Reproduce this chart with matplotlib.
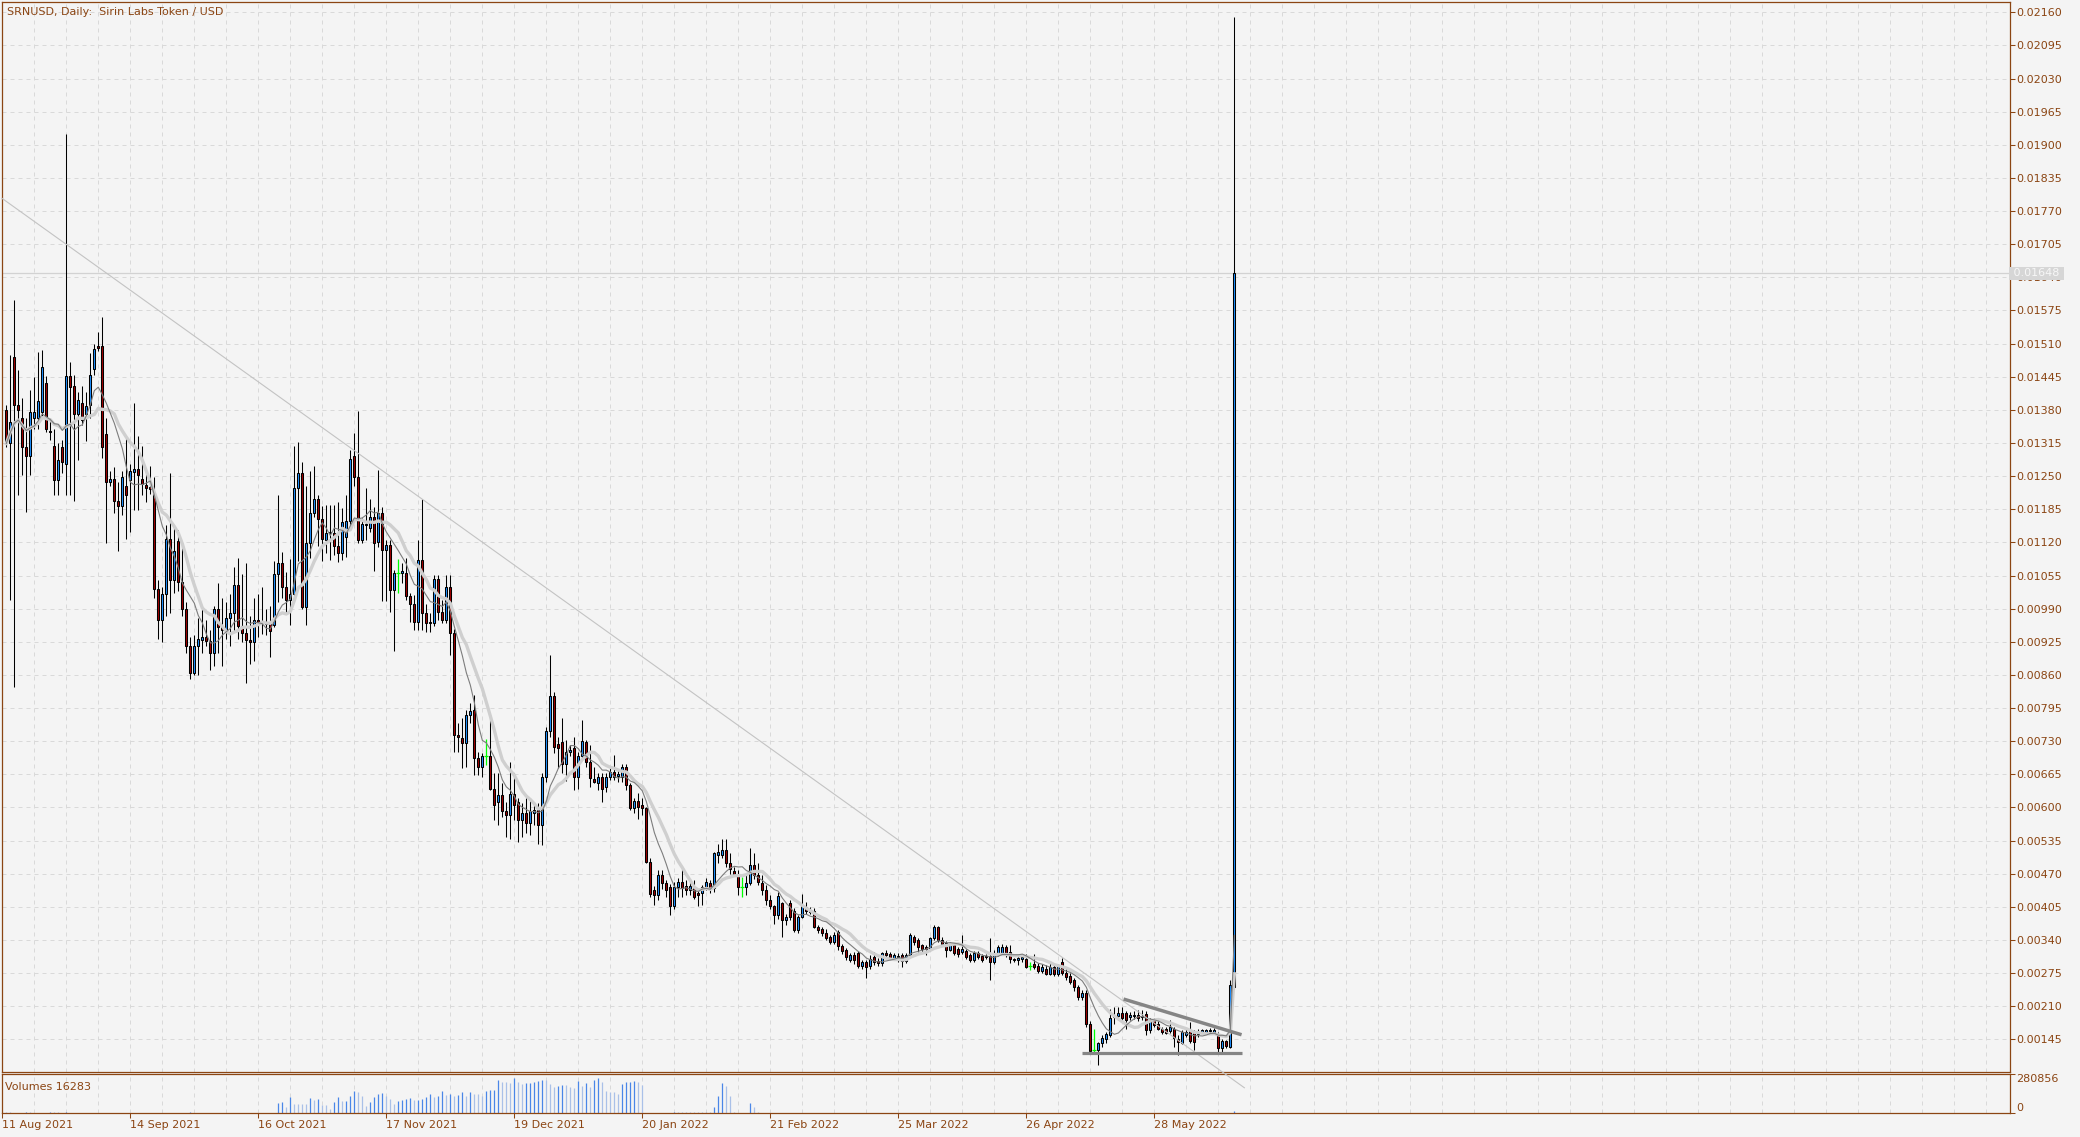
import numpy as np
import pandas as pd
import matplotlib
matplotlib.use('Agg')
import matplotlib.pyplot as plt
import matplotlib.transforms as mtransforms

# ---------------------------
# Data (prices in 1e-5 USD, volumes in thousands)
# ---------------------------
opens = [
    1379, 1314, 1484, 1390, 1364, 1307, 1289, 1364, 1364, 1375,
    1433, 1339, 1310, 1242, 1307, 1274, 1447, 1426, 1372, 1393,
    1372, 1390, 1460, 1505, 1505, 1332, 1238, 1245, 1202, 1191,
    1231, 1242, 1258, 1263, 1245, 1232, 1228, 1216, 1029, 967,
    1018, 1126, 1047, 1123, 1043, 989, 917, 863, 917, 928,
    935, 927, 902, 989, 953, 949, 971, 982, 1036, 956,
    942, 928, 924, 967, 962, 960, 962, 958, 1058, 1079,
    1032, 1007, 1018, 1227, 1256, 993, 1119, 1177, 1206, 1166,
    1125, 1139, 1139, 1112, 1099, 1131, 1161, 1290, 1249, 1125,
    1154, 1148, 1169, 1121, 1178, 1105, 1115, 1027, 1059, 1059,
    1059, 1014, 1000, 964, 1085, 981, 964, 961, 1049, 984,
    968, 1033, 942, 742, 736, 727, 781, 791, 696, 680,
    700, 700, 637, 611, 624, 592, 585, 626, 610, 575,
    590, 569, 590, 594, 565, 660, 749, 819, 725, 729,
    686, 709, 716, 660, 700, 729, 690, 655, 647, 660,
    641, 660, 670, 662, 660, 680, 644, 598, 613, 605,
    598, 493, 438, 428, 467, 451, 444, 406, 444, 454,
    445, 437, 444, 432, 432, 444, 452, 441, 507, 507,
    517, 491, 476, 470, 444, 444, 451, 487, 467, 452,
    438, 418, 406, 389, 413, 380, 413, 397, 359, 385,
    404, 399, 397, 366, 362, 353, 345, 336, 356, 328,
    320, 301, 310, 314, 289, 297, 289, 306, 299, 294,
    314, 312, 304, 309, 310, 299, 310, 346, 340, 330,
    327, 323, 343, 365, 340, 334, 321, 330, 323, 317,
    319, 310, 300, 315, 308, 308, 308, 297, 314, 315,
    327, 317, 302, 300, 302, 302, 289, 292, 288, 279,
    282, 274, 286, 274, 297, 275, 270, 261, 248, 228,
    236, 176, 124, 124, 137, 145, 153, 188, 190, 196,
    196, 189, 190, 193, 188, 194, 163, 183, 176, 166,
    166, 161, 166, 145, 138, 153, 161, 160, 155, 160,
    160, 162, 160, 155, 127, 142, 130, 248,
]
highs = [
    1390, 1487, 1595, 1458, 1404, 1364, 1418, 1444, 1494, 1498,
    1447, 1364, 1343, 1314, 1321, 1921, 1473, 1449, 1415, 1426,
    1415, 1491, 1509, 1533, 1563, 1364, 1260, 1267, 1238, 1260,
    1328, 1274, 1393, 1328, 1310, 1260, 1270, 1249, 1047, 1032,
    1155, 1256, 1151, 1144, 1112, 1003, 935, 938, 971, 996,
    967, 949, 996, 1040, 1011, 1003, 1018, 1072, 1090, 1058,
    1079, 975, 1011, 1018, 1032, 989, 996, 1083, 1213, 1101,
    1061, 1087, 1310, 1317, 1278, 1231, 1260, 1270, 1213, 1191,
    1193, 1193, 1193, 1200, 1187, 1213, 1301, 1334, 1378, 1167,
    1226, 1206, 1190, 1262, 1190, 1125, 1125, 1066, 1087, 1079,
    1089, 1020, 1017, 1125, 1206, 1000, 982, 1056, 1056, 1007,
    1056, 1056, 951, 765, 775, 791, 804, 821, 709, 706,
    735, 778, 667, 667, 647, 611, 690, 667, 618, 608,
    618, 618, 611, 608, 667, 758, 899, 827, 739, 775,
    732, 722, 739, 709, 771, 732, 722, 680, 667, 667,
    667, 680, 703, 675, 686, 686, 647, 618, 628, 618,
    601, 500, 445, 477, 477, 458, 450, 454, 461, 484,
    457, 457, 457, 438, 448, 461, 457, 513, 529, 539,
    539, 510, 483, 477, 464, 470, 521, 510, 490, 467,
    448, 428, 408, 434, 415, 390, 418, 402, 389, 430,
    415, 405, 402, 369, 366, 362, 350, 356, 359, 333,
    325, 314, 316, 318, 300, 300, 310, 317, 304, 317,
    320, 317, 314, 314, 315, 314, 353, 350, 343, 333,
    330, 346, 369, 368, 345, 337, 335, 333, 327, 349,
    323, 314, 318, 318, 312, 312, 343, 320, 330, 333,
    330, 330, 305, 308, 310, 313, 297, 313, 295, 292,
    290, 294, 295, 292, 304, 285, 275, 265, 251, 241,
    241, 180, 166, 140, 153, 160, 205, 209, 209, 209,
    200, 199, 200, 202, 202, 201, 186, 187, 180, 170,
    170, 183, 170, 153, 163, 166, 179, 163, 166, 166,
    166, 168, 167, 160, 145, 144, 261, 2150,
]
lows = [
    1307, 1007, 837, 1213, 1253, 1180, 1253, 1343, 1343, 1364,
    1336, 1320, 1213, 1213, 1256, 1213, 1213, 1202, 1281, 1350,
    1318, 1364, 1449, 1495, 1285, 1119, 1230, 1177, 1104, 1173,
    1126, 1141, 1184, 1184, 1213, 1200, 1215, 1011, 931, 924,
    975, 982, 1021, 1025, 975, 902, 852, 859, 859, 902,
    917, 870, 877, 902, 877, 931, 917, 946, 931, 924,
    845, 881, 888, 935, 940, 938, 895, 953, 1003, 1011,
    982, 957, 1007, 1083, 989, 957, 1090, 1170, 1112, 1083,
    1100, 1085, 1095, 1082, 1085, 1092, 1150, 1230, 1118, 1118,
    1125, 1140, 1063, 1110, 1004, 1004, 984, 906, 1021, 1040,
    1007, 964, 948, 948, 948, 945, 945, 955, 968, 961,
    961, 899, 709, 709, 677, 680, 765, 664, 664, 660,
    683, 634, 575, 565, 582, 542, 539, 575, 533, 542,
    549, 546, 565, 529, 526, 650, 739, 706, 677, 667,
    651, 700, 634, 637, 693, 680, 641, 647, 634, 611,
    630, 654, 654, 650, 650, 634, 595, 590, 578, 585,
    490, 425, 408, 418, 440, 425, 389, 400, 425, 425,
    428, 428, 421, 406, 408, 438, 433, 435, 490, 500,
    483, 470, 465, 428, 425, 428, 448, 460, 448, 428,
    408, 400, 372, 382, 345, 370, 380, 356, 354, 383,
    390, 390, 363, 354, 348, 340, 333, 333, 320, 312,
    300, 297, 293, 285, 283, 266, 283, 290, 289, 288,
    306, 300, 300, 296, 287, 294, 306, 330, 317, 314,
    310, 318, 340, 336, 328, 307, 318, 310, 306, 312,
    303, 297, 297, 302, 296, 302, 261, 292, 309, 310,
    307, 294, 296, 290, 297, 284, 281, 283, 275, 276,
    271, 272, 270, 270, 272, 262, 254, 240, 222, 222,
    170, 120, 120, 94, 130, 137, 150, 176, 183, 180,
    166, 183, 184, 180, 183, 153, 157, 170, 163, 155,
    155, 157, 130, 114, 135, 150, 138, 124, 150, 157,
    157, 158, 157, 120, 117, 127, 127, 243,
]
closes = [
    1314, 1357, 1390, 1379, 1307, 1289, 1375, 1375, 1397, 1465,
    1343, 1336, 1242, 1281, 1278, 1447, 1424, 1372, 1400, 1361,
    1388, 1449, 1500, 1502, 1307, 1238, 1245, 1202, 1191, 1249,
    1213, 1260, 1263, 1253, 1235, 1227, 1224, 1029, 967, 1018,
    1126, 1047, 1104, 1043, 989, 917, 863, 917, 931, 935,
    927, 902, 989, 953, 949, 971, 982, 1036, 956, 942,
    928, 924, 967, 964, 966, 964, 946, 1058, 1079, 1032,
    1007, 1018, 1227, 1256, 993, 1119, 1177, 1206, 1166, 1126,
    1139, 1141, 1112, 1099, 1159, 1161, 1283, 1249, 1125, 1157,
    1157, 1169, 1118, 1178, 1105, 1115, 1027, 1059, 1059, 1063,
    1014, 1000, 964, 1085, 981, 961, 961, 1049, 984, 968,
    1033, 942, 742, 738, 727, 781, 789, 696, 680, 700,
    700, 637, 605, 624, 592, 585, 626, 605, 575, 590,
    569, 592, 594, 565, 660, 749, 819, 719, 716, 686,
    709, 713, 660, 700, 731, 690, 657, 650, 660, 637,
    660, 670, 660, 665, 680, 644, 598, 613, 601, 598,
    493, 431, 428, 467, 451, 438, 406, 444, 454, 441,
    438, 445, 425, 428, 444, 454, 441, 510, 513, 516,
    491, 480, 470, 444, 444, 451, 487, 467, 454, 438,
    418, 406, 389, 426, 380, 385, 385, 359, 385, 406,
    397, 395, 366, 359, 353, 343, 336, 349, 328, 319,
    306, 310, 300, 289, 297, 286, 302, 297, 294, 314,
    311, 304, 310, 306, 299, 310, 350, 336, 327, 323,
    323, 343, 365, 340, 333, 321, 330, 314, 312, 323,
    307, 300, 315, 306, 300, 306, 297, 314, 327, 327,
    315, 302, 300, 305, 307, 286, 289, 286, 279, 286,
    274, 286, 274, 289, 275, 268, 258, 248, 228, 235,
    176, 122, 124, 137, 147, 155, 186, 192, 196, 186,
    183, 192, 193, 186, 191, 163, 184, 173, 166, 160,
    157, 169, 147, 140, 160, 160, 142, 140, 160, 163,
    163, 164, 164, 127, 142, 132, 251, 1648,
]
volumes_k = (
    [6, 6, 0, 0, 0, 6, 6, 0, 0, 0, 0, 6, 6, 6, 0, 6] + [0] * 30 + [6] + [0] * 21
    + [73, 78, 44, 114, 68, 68, 68, 68, 107, 97,
       104, 63, 63, 34, 80, 114, 85, 90, 124, 157,
       153, 128, 56, 80, 114, 138, 143, 124, 104, 68,
       92, 94, 102, 111, 94, 97, 102, 114, 140, 116,
       121, 162, 133, 140, 126, 131, 150, 128, 150, 140,
       136, 128, 162, 165, 170, 237, 225, 225, 218, 252,
       223, 213, 218, 220, 225, 230, 237, 237, 208, 189,
       194, 201, 201, 189, 184, 230, 194, 218, 189, 237,
       252, 225, 160, 152, 152, 140, 208, 222, 227, 230,
       222, 203]
    + [0] * 7 + [6] * 10 + [48, 121, 215, 194, 128, 6, 0, 0, 0, 73, 44, 6]
    + [0] * 118 + [16.283]
)

price_ticks = np.arange(145, 2161, 65)          # 0.00145 .. 0.02160
date_pos = [-1, 31, 63, 95, 127, 159, 191, 223, 255, 287]
date_labels = ['11 Aug 2021', '14 Sep 2021', '16 Oct 2021', '17 Nov 2021', '19 Dec 2021',
               '20 Jan 2022', '21 Feb 2022', '25 Mar 2022', '26 Apr 2022', '28 May 2022']
bid = 1648
vol_top = 280856
trend_x, trend_y = [-1.075, 309.5], [1795, 50]
support_x, support_y = [268.9, 308.8], [119, 119]
resist_x, resist_y = [279.3, 308.8], [224, 154]

# ---------------------------
# Style
# ---------------------------
BG = '#f4f4f4'
BROWN = '#8b4513'
GRID = '#d9d9d9'
W, H = 2080, 1137

o = np.array(opens) * 1e-5
h = np.array(highs) * 1e-5
l = np.array(lows) * 1e-5
c = np.array(closes) * 1e-5
vol = np.array(volumes_k) * 1000
idx = np.arange(len(c))

fig = plt.figure(figsize=(W / 100, H / 100), dpi=100, facecolor=BG)
ax = fig.add_axes([2.3 / W, 1 - 1072.3 / H, (2010 - 2.3) / W, (1072.3 - 2.3) / H], facecolor=BG)
axv = fig.add_axes([2.3 / W, 1 - 1113.3 / H, (2010 - 2.3) / W, (1113.3 - 1074.3) / H], facecolor=BG)
ax.set_zorder(3)
axv.set_zorder(1)

xmin, xmax = -1.0, 500.9
ax.set_xlim(xmin, xmax)
axv.set_xlim(xmin, xmax)
ax.set_ylim(0.000803, 0.021796)
axv.set_ylim(0, vol_top)

# grid
for a in (ax, axv):
    for gx in np.arange(7, 500, 8):
        a.axvline(gx, color=GRID, lw=0.72, ls=(0, (4, 4)), zorder=0)
for gy in price_ticks:
    ax.axhline(gy * 1e-5, color=GRID, lw=0.72, ls=(0, (4, 4)), zorder=0)

# bid line
ax.axhline(bid * 1e-5, color='#d2d2d2', lw=0.9, zorder=1)

# candles
up = c > o
dn = c < o
dj = c == o
ax.vlines(idx[~dj], l[~dj], h[~dj], color='black', lw=0.75, zorder=2)
ax.bar(idx[up], (c - o)[up], bottom=o[up], width=0.55, color='#1e90ff',
       edgecolor='black', linewidth=0.75, zorder=3)
ax.bar(idx[dn], (o - c)[dn], bottom=c[dn], width=0.55, color='#a00000',
       edgecolor='black', linewidth=0.75, zorder=3)
ax.vlines(idx[dj], l[dj], h[dj], color='#00ff00', lw=0.9, zorder=3)
ax.hlines(o[dj], idx[dj] - 0.5, idx[dj] + 0.5, color='#00ff00', lw=0.9, zorder=3)

# moving averages
cs = pd.Series(c)
ax.plot(idx, cs.rolling(13, min_periods=1).mean(), color='#cfcfcf', lw=2.4, zorder=4)
ax.plot(idx, cs.rolling(8, min_periods=1).mean(), color='#7d7d7d', lw=0.8, zorder=5)

# drawn lines
ax.plot(trend_x, np.array(trend_y) * 1e-5, color='#c3c3c3', lw=0.8, zorder=6, clip_on=False)
ax.plot(support_x, np.array(support_y) * 1e-5, color='#858585', lw=2.3, zorder=6,
        solid_capstyle='butt')
ax.plot(resist_x, np.array(resist_y) * 1e-5, color='#858585', lw=2.5, zorder=6,
        solid_capstyle='butt')

# volumes
vcol = ['#4a86e8' if i > 0 and vol[i] > vol[i - 1] else '#a9c0e8' for i in idx]
axv.vlines(idx, 0, vol, colors=vcol, lw=0.9, zorder=2)

# axes styling
for a in (ax, axv):
    for s in a.spines.values():
        s.set_color(BROWN)
        s.set_linewidth(0.9)

ax.yaxis.tick_right()
ax.set_yticks(price_ticks * 1e-5)
ax.set_yticklabels([f'{v * 1e-5:.5f}' for v in price_ticks])
ax.tick_params(axis='y', which='both', direction='out', length=3.6, width=0.75,
               color=BROWN, labelcolor=BROWN, labelsize=8, pad=1)
ax.set_xticks([])

axv.yaxis.tick_right()
axv.set_yticks([0, vol_top])
axv.set_yticklabels(['0', str(vol_top)])
axv.tick_params(axis='y', direction='out', length=3.6, width=0.75,
                color=BROWN, labelcolor=BROWN, labelsize=8, pad=1)
yl = axv.get_yticklabels()
yl[0].set_va('bottom')
yl[1].set_va('top')

axv.set_xticks(date_pos)
axv.set_xticklabels(date_labels)
axv.tick_params(axis='x', direction='out', length=3.6, width=0.75,
                color=BROWN, labelcolor=BROWN, labelsize=8, pad=1)
for t in axv.get_xticklabels():
    t.set_ha('left')

# bid price label box
trans = mtransforms.blended_transform_factory(ax.transAxes, ax.transData)
ax.text(1.0, bid * 1e-5, ' 0.01648 ', transform=trans, ha='left', va='center',
        fontsize=8, color='#f7f7f7', zorder=10, clip_on=False,
        bbox=dict(boxstyle='square,pad=0.12', fc='#d6d6d6', ec='none'))

# captions
fig.text(7 / W, 1 - 12 / H, 'SRNUSD, Daily:  Sirin Labs Token / USD', color=BROWN,
         fontsize=8, va='center', ha='left')
fig.text(5 / W, 1 - 1087 / H, 'Volumes 16283', color=BROWN, fontsize=8, va='center', ha='left')

fig.savefig('out.png', dpi=100, facecolor=BG)
